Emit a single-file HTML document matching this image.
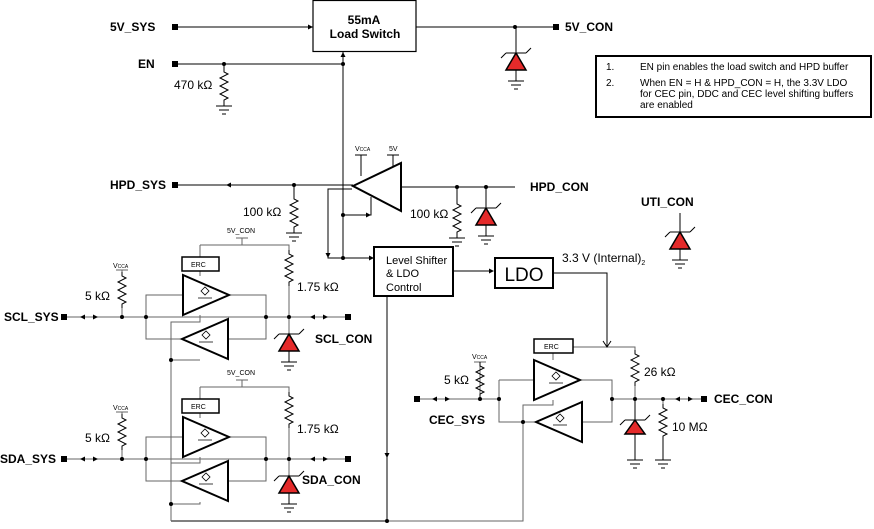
<!DOCTYPE html>
<html><head><meta charset="utf-8"><style>
html,body{margin:0;padding:0;background:#fff}
svg{display:block;font-family:"Liberation Sans",Arial,sans-serif}
.b{font-weight:bold;font-size:12px}
.n{font-size:12px}
.s{font-size:7px}
</style></head><body>
<svg width="874" height="529" viewBox="0 0 874 529" xmlns="http://www.w3.org/2000/svg">
<defs>
<g id="gnd" stroke="#000" stroke-width="1" fill="none"><path d="M-8 0H8M-5 4H5M-2 8H2"/></g>
<g id="tvs" stroke="#000" stroke-width="1"><path d="M-10 0H10M-10 0l-5 5M10 0l5 -5" fill="none"/><path d="M-10 17L10 17L0 0Z" fill="#e42a2a" stroke-width="1.5"/><path d="M0 17V28M-8 28H8M-5 32H5M-2 36H2" fill="none"/></g>
<g id="res" stroke="#000" stroke-width="1" fill="none"><path d="M0 0V4l4 2l-8 4l8 4l-8 4l8 4l-8 4l8 4l-4 2V36"/></g>
<g id="ampR"><path d="M0 0L0 40L46 20Z" fill="#fff" stroke="#000" stroke-width="2"/><path d="M18 16l4 -4l4 4l-4 4z M15 23H29" fill="none" stroke="#000" stroke-width="0.8"/></g>
<g id="ampL"><path d="M46 0L46 40L0 20Z" fill="#fff" stroke="#000" stroke-width="2"/><path d="M20 16l4 -4l4 4l-4 4z M17 23H31" fill="none" stroke="#000" stroke-width="0.8"/></g>
</defs>

<g stroke="#000" stroke-width="1" fill="none">
<rect x="313" y="0.5" width="103" height="51" stroke-width="1.2"/>
<path d="M178 27H313M416 27H553M516 27V53"/>
<path d="M178 64H343M343 52V258M224 64V68"/>
<path d="M178 185H353M294 185V195M401 187H515M457 187V200M486 187V208"/>
<path d="M361 155V176M355 155H367M393 155V166M387 155H399"/>
<path d="M352 189H328V258H374M343 215H371V197"/>
<rect x="374" y="247" width="79" height="49" stroke-width="2"/>
<rect x="495" y="258" width="58" height="30" stroke-width="2"/>
<path d="M453 271H493M553 273H607V347"/>
<path d="M387 296V521H171"/>
</g>
<g stroke="#666" stroke-width="1" fill="none">
<path d="M573 347H635V350M635 386V399M612 399H703M663 399V404M499 399H418M480 399V362"/>
<path d="M580 380H612V422H582M499 380H534M499 380V422H536M553 353V360M553 400V405H523V521H387"/>
<path d="M200 245H289V250M242 238V245M200 245V257M289 286V317M67 317H347M122 317V308M122 272V270"/>
<path d="M229 295H266V339H228M146 317V295H183M146 317V339H182M200 271V276M200 315V322H171V521M200 360H171"/>
<path d="M289 317V334"/>
<path d="M200 387H289V392M242 380V387M200 387V399M289 428V459M67 459H347M122 459V450M122 414V412"/>
<path d="M229 437H266V481H228M146 459V437H183M146 459V481H182M200 413V418M200 457V463H171M200 502V504H171"/>
<path d="M289 459V476"/>
<path d="M122 270H128M116 270H128M122 412H128M116 412H128M236 238H248M236 380H248M474 362H486"/>
</g>
<g stroke="#666">
<rect x="534" y="339" width="39" height="14" fill="#fff" stroke="#000" stroke-width="1.5"/>
<rect x="182" y="257" width="37" height="14" fill="#fff" stroke="#000" stroke-width="1.5"/>
<rect x="182" y="399" width="37" height="14" fill="#fff" stroke="#000" stroke-width="1.5"/>
</g>

<path d="M401 163L401 211L353 186Z" fill="#fff" stroke="#000" stroke-width="2"/>
<use href="#ampR" x="183" y="275"/><use href="#ampL" x="182" y="319"/>
<use href="#ampR" x="183" y="417"/><use href="#ampL" x="182" y="461"/>
<use href="#ampR" x="534" y="360"/><use href="#ampL" x="536" y="402"/>

<use href="#res" x="224" y="68"/><use href="#gnd" x="224" y="106"/><path d="M224 104V106" stroke="#000"/>
<use href="#res" x="294" y="195"/><use href="#gnd" x="294" y="233"/><path d="M294 231V233" stroke="#000"/>
<use href="#res" x="457" y="200"/><use href="#gnd" x="457" y="238"/><path d="M457 236V238" stroke="#000"/>
<use href="#res" x="122" y="272"/><use href="#res" x="289" y="250"/>
<use href="#res" x="122" y="414"/><use href="#res" x="289" y="392"/>
<use href="#res" x="480" y="362"/><use href="#res" x="635" y="350"/>
<use href="#res" x="663" y="404"/><path d="M663 440V460" stroke="#000"/><use href="#gnd" x="663" y="460"/>

<use href="#tvs" x="516" y="53"/><use href="#tvs" x="486" y="208"/><use href="#tvs" x="680" y="232"/>
<path d="M680 213V232" stroke="#000"/>
<use href="#tvs" x="289" y="334"/><use href="#tvs" x="289" y="476"/>
<path d="M635 399V420" stroke="#000"/>
<g transform="translate(635,420)"><path d="M-10 0H10M-10 0l-5 5M10 0l5 -5" stroke="#000" fill="none"/><path d="M-10 14L10 14L0 0Z" fill="#e42a2a" stroke="#000" stroke-width="1.5"/><path d="M0 14V40M-8 40H8M-5 44H5M-2 48H2" stroke="#000" fill="none"/></g>

<g fill="#000">
<rect x="172" y="24" width="6" height="6"/><rect x="553" y="24" width="6" height="6"/>
<rect x="172" y="61" width="6" height="6"/><rect x="172" y="182" width="6" height="6"/>
<rect x="61" y="314" width="6" height="6"/><rect x="345" y="314" width="6" height="6"/>
<rect x="61" y="456" width="6" height="6"/><rect x="345" y="456" width="6" height="6"/>
<rect x="414" y="396" width="6" height="6"/><rect x="701" y="396" width="6" height="6"/>
<circle cx="515" cy="27" r="2"/><circle cx="224" cy="64" r="2"/><circle cx="343" cy="64" r="2"/>
<circle cx="294" cy="185" r="2"/><circle cx="457" cy="187" r="2"/><circle cx="486" cy="187" r="2"/>
<circle cx="343" cy="215" r="2"/><circle cx="343" cy="258" r="2"/>
<circle cx="122" cy="317" r="2"/><circle cx="146" cy="317" r="2"/><circle cx="266" cy="317" r="2"/><circle cx="289" cy="317" r="2"/>
<circle cx="122" cy="459" r="2"/><circle cx="146" cy="459" r="2"/><circle cx="266" cy="459" r="2"/><circle cx="289" cy="459" r="2"/>
<circle cx="171" cy="360" r="2"/><circle cx="171" cy="504" r="2"/><circle cx="387" cy="521" r="2"/>
<circle cx="480" cy="399" r="2"/><circle cx="499" cy="399" r="2"/><circle cx="612" cy="399" r="2"/><circle cx="635" cy="399" r="2"/><circle cx="663" cy="399" r="2"/><circle cx="523" cy="422" r="2"/>
<path d="M313 27l-5 -2.5v5z"/><path d="M343 52l-2.5 5h5z"/><path d="M226 185l5 -2.5v5z"/>
<path d="M371 215l-5 -2.5v5z"/><path d="M328 258l-2.5 -5h5z"/><path d="M374 258l-5 -2.5v5z"/>
<path d="M494 271l-5 -2.5v5z"/><path d="M387 458l-2.5 -5h5z"/>
<path d="M80 317l5 -2.5v5z"/><path d="M98 317l-5 -2.5v5z"/><path d="M310 317l5 -2.5v5z"/><path d="M328 317l-5 -2.5v5z"/>
<path d="M80 459l5 -2.5v5z"/><path d="M98 459l-5 -2.5v5z"/><path d="M310 459l5 -2.5v5z"/><path d="M328 459l-5 -2.5v5z"/>
<path d="M432 399l5 -2.5v5z"/><path d="M450 399l-5 -2.5v5z"/><path d="M675 399l5 -2.5v5z"/><path d="M693 399l-5 -2.5v5z"/>
</g>
<path d="M603 341l4 6l4 -6" stroke="#000" fill="none"/>

<rect x="596" y="56" width="275" height="61" fill="none" stroke="#000" stroke-width="2"/>
<g style="font-size:10px">
<text x="606" y="70">1.</text><text x="640" y="70">EN pin enables the load switch and HPD buffer</text>
<text x="606" y="86">2.</text><text x="640" y="86">When EN = H &amp; HPD_CON = H, the 3.3V LDO</text>
<text x="640" y="97">for CEC pin, DDC and CEC level shifting buffers</text>
<text x="640" y="108">are enabled</text>
</g>

<g class="b">
<text x="364" y="24" text-anchor="middle">55mA</text><text x="365" y="38" text-anchor="middle">Load Switch</text>
<text x="110" y="31">5V_SYS</text><text x="565" y="31">5V_CON</text><text x="138" y="68">EN</text>
<text x="110" y="189">HPD_SYS</text><text x="530" y="191">HPD_CON</text><text x="641" y="206">UTI_CON</text>
<text x="4" y="321">SCL_SYS</text><text x="315" y="343">SCL_CON</text>
<text x="0" y="463">SDA_SYS</text><text x="302" y="484">SDA_CON</text>
<text x="429" y="424">CEC_SYS</text><text x="714" y="403">CEC_CON</text>
</g>
<g class="n">
<text x="174" y="89">470 kΩ</text><text x="243" y="216">100 kΩ</text><text x="410" y="218">100 kΩ</text>
<text x="85" y="300">5 kΩ</text><text x="297" y="291">1.75 kΩ</text>
<text x="85" y="442">5 kΩ</text><text x="297" y="433">1.75 kΩ</text>
<text x="444" y="384">5 kΩ</text><text x="644" y="376">26 kΩ</text><text x="672" y="431">10 MΩ</text>
<text x="386" y="264" style="font-size:11px">Level Shifter</text><text x="386" y="277" style="font-size:11px">&amp; LDO</text><text x="386" y="291" style="font-size:11px">Control</text>
<text x="524" y="281" text-anchor="middle" style="font-size:19px">LDO</text>
<text x="562" y="262">3.3 V (Internal)<tspan style="font-size:7px" dy="3">2</tspan></text>
</g>
<g class="s">
<text x="355" y="151">V<tspan style="font-size:5px">CCA</tspan></text><text x="389" y="151">5V</text>
<text x="227" y="233">5V_CON</text><text x="227" y="375">5V_CON</text>
<text x="113" y="268">V<tspan style="font-size:5px">CCA</tspan></text><text x="113" y="410">V<tspan style="font-size:5px">CCA</tspan></text>
<text x="472" y="359">V<tspan style="font-size:5px">CCA</tspan></text>
<text x="191" y="267">ERC</text><text x="191" y="409">ERC</text><text x="544" y="349">ERC</text>
</g>
</svg>
</body></html>
